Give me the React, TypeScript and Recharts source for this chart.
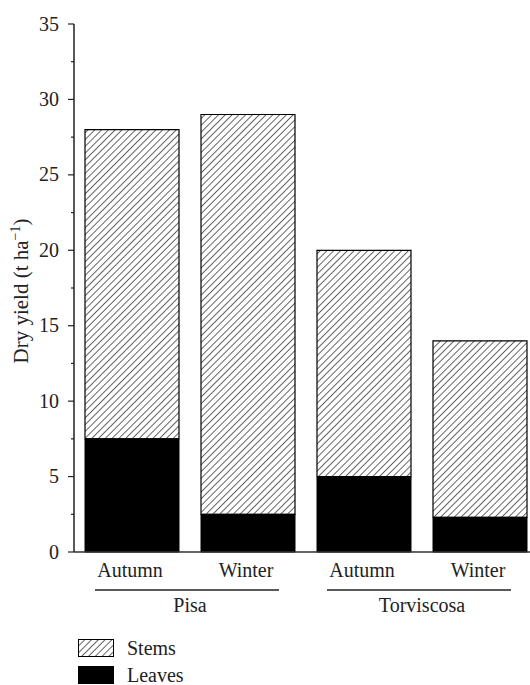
import React from 'react';
import { BarChart, Bar, XAxis, YAxis } from 'recharts';

const seasons = ['Autumn', 'Winter', 'Autumn', 'Winter'];
const sites = ['Pisa', 'Pisa', 'Torviscosa', 'Torviscosa'];
const leaves = [7.5, 2.5, 5.0, 2.3];
const stems = [20.5, 26.5, 15.0, 11.7];
const yTicks = [0, 2.5, 5, 7.5, 10, 12.5, 15, 17.5, 20, 22.5, 25, 27.5, 30, 32.5, 35];
const seriesNames = { stems: 'Stems', leaves: 'Leaves' };

const data = seasons.map((s, i) => ({
  key: `${sites[i]}-${s}`,
  season: s,
  site: sites[i],
  leaves: leaves[i],
  stems: stems[i],
}));

const FONT = '"Liberation Serif", "Times New Roman", serif';
const AXIS = '#222';

const YTick = (props: any) => {
  const { x, y, payload } = props;
  const v = payload.value;
  const major = v % 5 === 0;
  return (
    <g>
      <line x1={x} x2={x - (major ? 6 : 3)} y1={y} y2={y} stroke={AXIS} strokeWidth={1.2} />
      {major && (
        <text x={x - 15} y={y} dy={6.5} textAnchor="end" fontFamily={FONT} fontSize={20} fill="#222">
          {v}
        </text>
      )}
    </g>
  );
};

const XTick = (props: any) => {
  const { x, y, index, width } = props;
  const band = (typeof width === 'number' && width > 0 ? width : 464) / seasons.length;
  const site = sites[index];
  const isStart = index === 0 || sites[index - 1] !== site;
  let count = 0;
  for (let j = index; j < sites.length && sites[j] === site; j++) count++;
  const xEnd = x + band * (count - 1);
  return (
    <g>
      <text x={x - 2} y={y + 25} textAnchor="middle" fontFamily={FONT} fontSize={20} fill="#222">
        {seasons[index]}
      </text>
      {isStart && (
        <g>
          <line x1={x - 37} x2={xEnd + 31} y1={y + 38} y2={y + 38} stroke="#222" strokeWidth={1.3} />
          <text x={(x + xEnd) / 2} y={y + 60} textAnchor="middle" fontFamily={FONT} fontSize={20} fill="#222">
            {site}
          </text>
        </g>
      )}
    </g>
  );
};

const YLabel = (props: any) => {
  const vb = props.viewBox || { y: 24, height: 528 };
  const cy = vb.y + vb.height / 2 + 3;
  const cx = 28;
  return (
    <text
      x={cx}
      y={cy}
      transform={`rotate(-90, ${cx}, ${cy})`}
      textAnchor="middle"
      fontFamily={FONT}
      fontSize={21}
      fill="#222"
    >
      <tspan>Dry yield (t ha</tspan>
      <tspan fontSize={14} dy={-8}>−1</tspan>
      <tspan dy={8}>)</tspan>
    </text>
  );
};

const Swatch = ({ hatched }: { hatched: boolean }) => (
  <svg width={36} height={18} style={{ display: 'block' }}>
    <defs>
      <pattern id="hatchLegend" patternUnits="userSpaceOnUse" width={4.8} height={4.8} patternTransform="rotate(45)">
        <line x1={0} y1={0} x2={0} y2={4.8} stroke="#000" strokeWidth={1.2} />
      </pattern>
    </defs>
    {hatched ? (
      <rect x={0.5} y={0.5} width={35} height={17} fill="url(#hatchLegend)" stroke="#000" strokeWidth={1} />
    ) : (
      <rect x={0} y={0} width={36} height={18} fill="#000" />
    )}
  </svg>
);

export default function App() {
  const legendItems = [
    { name: seriesNames.stems, hatched: true },
    { name: seriesNames.leaves, hatched: false },
  ];
  return (
    <div style={{ position: 'absolute', left: 0, top: 0, width: 530, height: 685, overflow: 'hidden', background: '#fff' }}>
      <BarChart
        width={540}
        height={685}
        data={data}
        margin={{ top: 24, right: 2, left: 0, bottom: 103 }}
        barCategoryGap={11}
      >
        <defs>
          <pattern id="hatch" patternUnits="userSpaceOnUse" width={4.8} height={4.8} patternTransform="rotate(45)">
            <line x1={0} y1={0} x2={0} y2={4.8} stroke="#000" strokeWidth={1.2} />
          </pattern>
        </defs>
        <XAxis
          dataKey="key"
          height={30}
          interval={0}
          tickLine={false}
          tickSize={0}
          tickMargin={0}
          axisLine={{ stroke: '#333', strokeWidth: 1.3 }}
          tick={<XTick />}
        />
        <YAxis
          width={74}
          type="number"
          domain={[0, 35]}
          ticks={yTicks}
          interval={0}
          tickLine={false}
          tickSize={0}
          tickMargin={0}
          axisLine={{ stroke: AXIS, strokeWidth: 1.5 }}
          tick={<YTick />}
          label={{ content: (p: any) => <YLabel {...p} /> }}
        />
        <Bar dataKey="leaves" name={seriesNames.leaves} stackId="a" fill="#000" stroke="#000" strokeWidth={1} isAnimationActive={false} />
        <Bar dataKey="stems" name={seriesNames.stems} stackId="a" fill="url(#hatch)" stroke="#000" strokeWidth={1.2} isAnimationActive={false} />
      </BarChart>
      <div style={{ position: 'absolute', left: 78, top: 634, fontFamily: FONT, fontSize: 20, color: '#222' }}>
        {legendItems.map((it) => (
          <div key={it.name} style={{ display: 'flex', alignItems: 'center', height: 27 }}>
            <Swatch hatched={it.hatched} />
            <span style={{ marginLeft: 13, lineHeight: '18px' }}>{it.name}</span>
          </div>
        ))}
      </div>
    </div>
  );
}
